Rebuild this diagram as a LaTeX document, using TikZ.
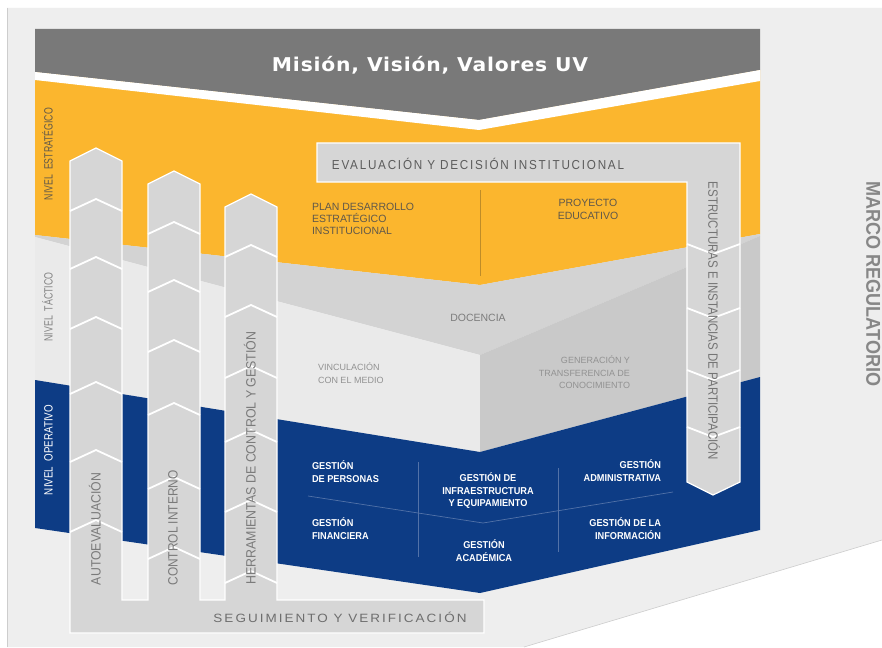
\documentclass[tikz,border=0pt]{standalone}
\usepackage{graphicx}
\usepackage{fontspec}
\setmainfont{Liberation Sans}
\newfontfamily\titlefont[LetterSpace=4]{DejaVu Sans}
\newfontfamily\spacedfont[LetterSpace=15]{Liberation Sans}
\newfontfamily\condfont[FakeStretch=0.92]{Liberation Sans}
\newcommand{\hfit}[2]{\resizebox{#1}{\height}{#2}}
\definecolor{bggray}{RGB}{238,238,238}
\definecolor{bgline}{RGB}{205,205,205}
\definecolor{bannergray}{RGB}{121,121,121}
\definecolor{uvyellow}{RGB}{251,182,46}
\definecolor{docgray}{RGB}{211,211,211}
\definecolor{vincgray}{RGB}{234,234,234}
\definecolor{gengray}{RGB}{201,201,201}
\definecolor{uvblue}{RGB}{13,60,133}
\definecolor{arrowgray}{RGB}{214,214,214}
\definecolor{divblue}{RGB}{82,114,168}
\definecolor{yline}{RGB}{190,140,40}
\definecolor{darktext}{RGB}{92,92,92}
\definecolor{midtext}{RGB}{122,122,122}
\definecolor{lighttext}{RGB}{146,146,146}
\definecolor{yeltext}{RGB}{96,88,74}
\definecolor{marcotext}{RGB}{135,135,135}
\begin{document}
\begin{tikzpicture}[x=1pt,y=-1pt,
  lbl/.style={inner sep=0pt, outer sep=0pt},
  chev/.style={draw=white, line width=1.8pt, line join=miter},
  arrowshape/.style={fill=arrowgray, draw=white, line width=1.2pt, line join=miter},
  divline/.style={draw=divblue, line width=0.7pt},
  bluetxt/.style={lbl, text=white, font=\condfont\bfseries\fontsize{10}{12.3}\selectfont},
  graytxt/.style={lbl, font=\fontsize{9}{12.3}\selectfont, text=lighttext},
  vtxt/.style={lbl, anchor=mid, text=midtext, font=\fontsize{13.5}{15}\selectfont},
  niveltxt/.style={lbl, anchor=mid, rotate=90, font=\fontsize{12}{14}\selectfont}]
\useasboundingbox (0,0) rectangle (882,647);
\fill[white] (0,0) rectangle (882,647);
% background
\fill[bggray] (7,8) -- (882,8) -- (882,540) -- (524,647) -- (7,647) -- cycle;
\draw[bgline, line width=1pt] (7,8) -- (7,647);
\draw[bgline, line width=0.6pt] (882,540) -- (524,647);
% layers
\fill[uvyellow] (35,72) -- (479,120) -- (760,70) -- (760,234) -- (480,285) -- (35,235) -- cycle;
\fill[docgray] (35,235) -- (480,285) -- (760,234) -- (760,236) -- (480,355) -- (35,237) -- cycle;
\fill[vincgray] (35,237) -- (480,355) -- (480,452) -- (35,380) -- cycle;
\fill[gengray] (480,355) -- (760,236) -- (760,377) -- (480,452) -- cycle;
\fill[uvblue] (35,380) -- (480,452) -- (760,377) -- (760,530) -- (480,593) -- (35,528) -- cycle;
% banner
\fill[bannergray] (35,29) -- (760,29) -- (760,70) -- (479,120) -- (35,72) -- cycle;
\fill[white] (35,72) -- (479,120) -- (760,70) -- (760,81) -- (479,130) -- (35,80) -- cycle;
\node[lbl, anchor=base, text=white] (title) at (430,72)
  {\hfit{316pt}{\titlefont\bfseries\fontsize{19}{22}\selectfont Misión, Visión, Valores UV}};
% yellow divider
\draw[yline, line width=0.8pt] (480,190) -- (480,276);
% evaluation L-shape with down arrow
\path[arrowshape] (317,143) -- (740,143) -- (740,482) -- (713,495) -- (687,482) -- (687,182) -- (317,182) -- cycle;
\foreach \t in {254,318,380,437}
  \draw[chev] (687,\t-10) -- (713,\t) -- (740,\t-10);
\node[lbl, anchor=base, text=darktext] (eval) at (478,169)
  {\hfit{292pt}{\spacedfont\fontsize{13}{15}\selectfont EVALUACIÓN Y DECISIÓN INSTITUCIONAL}};
\node[vtxt, rotate=-90, text=darktext!85] (estr) at (711,321)
  {\hfit{278pt}{ESTRUCTURAS E INSTANCIAS DE PARTICIPACIÓN}};
% left arrows and base bar
\path[arrowshape] (70,633) -- (70,161) -- (96,148) -- (122,161) -- (122,600)
  -- (148,600) -- (148,184) -- (174,171) -- (200,184) -- (200,600)
  -- (225,600) -- (225,207) -- (251,194) -- (277,207) -- (277,600)
  -- (484,600) -- (484,633) -- cycle;
\foreach \c in {199,257,317,382,450,520}
  \draw[chev] (70,\c+12) -- (96,\c) -- (122,\c+12);
\foreach \c in {222,280,340,403,477,547}
  \draw[chev] (148,\c+12) -- (174,\c) -- (200,\c+12);
\foreach \c in {245,305,366,430,500,571}
  \draw[chev] (225,\c+12) -- (251,\c) -- (277,\c+12);
\node[vtxt, rotate=90] (auto) at (98,529) {\hfit{112pt}{AUTOEVALUACIÓN}};
\node[vtxt, rotate=90] (ctrl) at (175,528) {\hfit{115pt}{CONTROL INTERNO}};
\node[vtxt, rotate=90] (herr) at (253,458) {\hfit{253pt}{HERRAMIENTAS DE CONTROL Y GESTIÓN}};
\node[lbl, anchor=base, text=midtext!90!black] (seg) at (340,622)
  {\hfit{253pt}{\spacedfont\fontsize{12}{14}\selectfont SEGUIMIENTO Y VERIFICACIÓN}};
% level labels
\node[niveltxt, text=yeltext] (nest) at (50,154) {\hfit{92pt}{NIVEL\ \ ESTRATÉGICO}};
\node[niveltxt, text=lighttext!90!black] (ntac) at (50,307) {\hfit{69pt}{NIVEL\ \ TÁCTICO}};
\node[niveltxt, text=white] (nope) at (50,450) {\hfit{90pt}{NIVEL\ \ OPERATIVO}};
% marco regulatorio
\node[lbl, anchor=mid, rotate=-90, text=marcotext] (marco) at (869,284)
  {\hfit{205pt}{\bfseries\fontsize{20}{22}\selectfont MARCO REGULATORIO}};
% strategic texts
\node[lbl, anchor=north west, align=left, text=yeltext, font=\fontsize{10.5}{12}\selectfont] (plan) at (312,203.5)
  {PLAN DESARROLLO\\ESTRATÉGICO\\INSTITUCIONAL};
\node[lbl, anchor=north, align=center, text=yeltext, font=\fontsize{10.5}{13}\selectfont] (proy) at (588,199.5)
  {PROYECTO\\EDUCATIVO};
% tactical texts
\node[lbl, anchor=base, text=lighttext!85!black, font=\fontsize{10.5}{12}\selectfont] (doc) at (478,321) {DOCENCIA};
\node[graytxt, anchor=north west, align=left] (vinc) at (318,363) {VINCULACIÓN\\CON EL MEDIO};
\node[graytxt, anchor=north east, align=right] (gen) at (630,356) {GENERACIÓN Y\\TRANSFERENCIA DE\\CONOCIMIENTO};
% operational dividers
\draw[divline] (418,462) -- (418,557);
\draw[divline] (558,468) -- (558,552);
\draw[divline] (308,496) -- (483,523) -- (673,492);
% operational texts
\node[bluetxt, anchor=north west, align=left] (gper) at (312,461) {GESTIÓN\\DE PERSONAS};
\node[bluetxt, anchor=north west, align=left] (gfin) at (312,518) {GESTIÓN\\FINANCIERA};
\node[bluetxt, anchor=north, align=center] (ginf) at (488,473) {GESTIÓN DE\\INFRAESTRUCTURA\\Y EQUIPAMIENTO};
\node[bluetxt, anchor=north, align=center] (gaca) at (484,540) {GESTIÓN\\ACADÉMICA};
\node[bluetxt, anchor=north east, align=right] (gadm) at (661,460) {GESTIÓN\\ADMINISTRATIVA};
\node[bluetxt, anchor=north east, align=right] (ginfo) at (661,518) {GESTIÓN DE LA\\INFORMACIÓN};
\end{tikzpicture}
\end{document}
